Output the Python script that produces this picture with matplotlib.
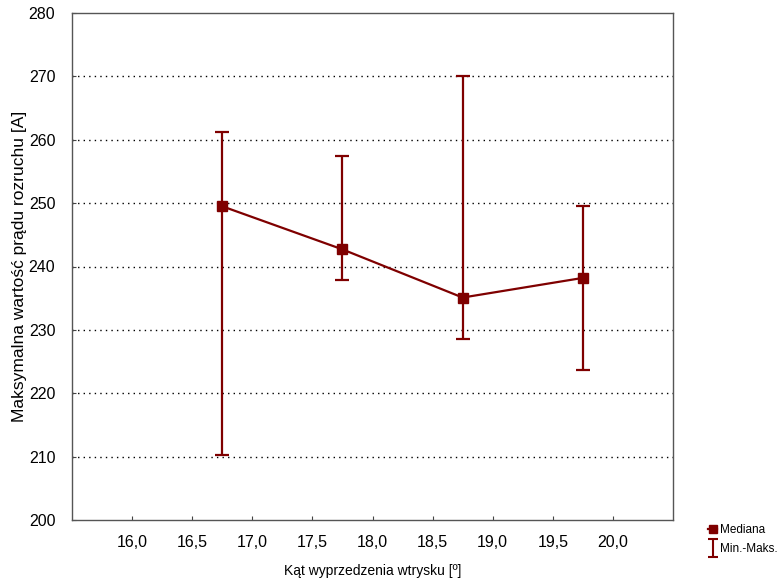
import numpy as np
import matplotlib.pyplot as plt
from matplotlib.lines import Line2D
from matplotlib.path import Path
from matplotlib.ticker import FuncFormatter

plt.rcParams['font.family'] = ['Liberation Sans', 'DejaVu Sans']

# kat wyprzedzenia wtrysku, mediana i zakres min-maks
kat = [16.75, 17.75, 18.75, 19.75]
mediana = [249.5, 242.7, 235.1, 238.2]
minimum = [210.2, 237.9, 228.6, 223.7]
maksimum = [261.2, 257.4, 270.1, 249.5]

color = '#7f0000'

fig = plt.figure(figsize=(7.77, 5.79), dpi=100)
ax = fig.add_axes([72 / 777, 1 - 520 / 579, (673 - 72) / 777, (520 - 13) / 579])

med = np.array(mediana)
yerr = np.vstack([med - np.array(minimum), np.array(maksimum) - med])
ax.errorbar(kat, mediana, yerr=yerr, color=color, lw=1.6, elinewidth=1.6,
            capsize=5, capthick=1.6, marker='s', markersize=6.5, zorder=3)

ax.set_xlim(15.5, 20.5)
ax.set_ylim(200, 280)
ax.set_xticks(np.arange(16.0, 20.01, 0.5))
ax.set_yticks(np.arange(200, 281, 10))
ax.xaxis.set_major_formatter(FuncFormatter(lambda v, p: f'{v:.1f}'.replace('.', ',')))
ax.tick_params(direction='in', length=3, labelsize=11.5, color='#444444')
ax.tick_params(axis='x', pad=11)
ax.tick_params(axis='y', pad=12)
for y in range(210, 280, 10):
    ax.axhline(y, color='black', lw=1.0, ls=(0, (1, 3)), zorder=1)
for s in ax.spines.values():
    s.set_color('#555555')
    s.set_linewidth(1.0)

ax.set_xlabel('Kąt wyprzedzenia wtrysku [º]', fontsize=10, labelpad=10)
ax.set_ylabel('Maksymalna wartość prądu rozruchu [A]', fontsize=12.5, labelpad=1)

# znacznik I dla zakresu min-maks
ibeam = Path([(-0.5, 1), (0.5, 1), (0, 1), (0, -1), (-0.5, -1), (0.5, -1)],
             [Path.MOVETO, Path.LINETO, Path.MOVETO, Path.LINETO, Path.MOVETO, Path.LINETO])
handles = [
    Line2D([], [], color=color, marker='s', markersize=6, lw=1.6),
    Line2D([], [], color=color, marker=ibeam, markersize=13, markeredgewidth=1.5,
           fillstyle='none', lw=0),
]
fig.legend(handles, ['Mediana', 'Min.-Maks.'], loc='upper left',
           bbox_to_anchor=(702 / 777, 1 - 518 / 579), frameon=False,
           fontsize=8.5, handlelength=0.8, handletextpad=0.25, labelspacing=0.6,
           borderpad=0)

fig.savefig('out.png', dpi=100)
